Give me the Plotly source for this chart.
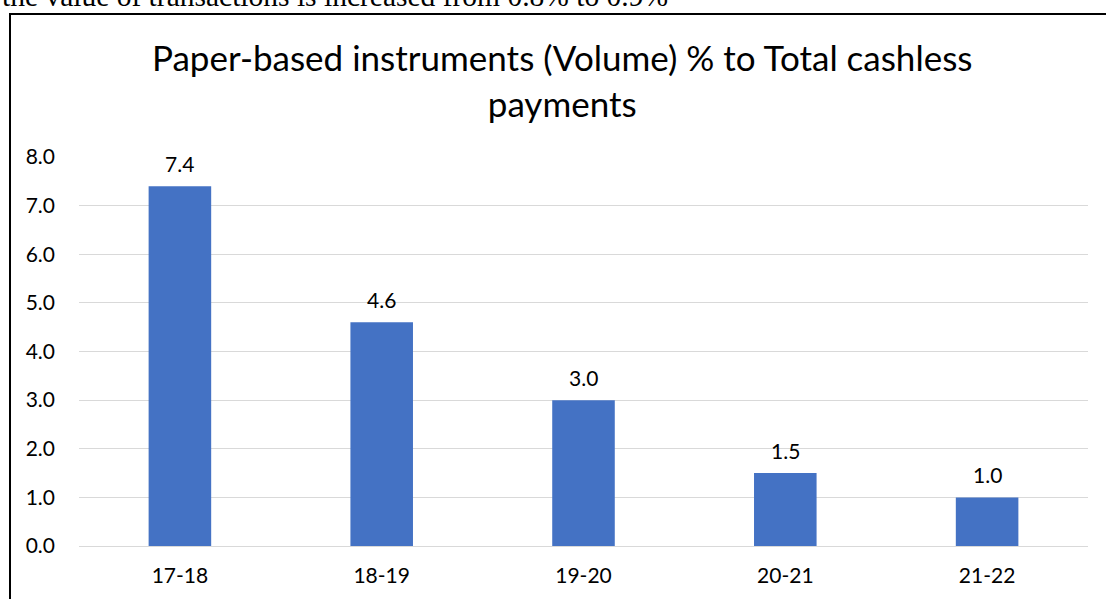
import plotly.graph_objects as go

years = ["17-18", "18-19", "19-20", "20-21", "21-22"]
paper_share = [7.4, 4.6, 3.0, 1.5, 1.0]
y_ticks = [0, 1, 2, 3, 4, 5, 6, 7, 8]
y_tick_text = [f"{v:.1f}" for v in y_ticks]

W, H = 1106, 599
L, R, T, B = 79, 18, 157, 53


def px(x):
    return (x - L) / (W - L - R)


def py(y):
    return (H - B - y) / (H - T - B)


font_family = "Lato, 'Open Sans', sans-serif"
label_size = 21

fig = go.Figure(
    go.Bar(
        x=years,
        y=paper_share,
        marker=dict(color="#4472C4", line=dict(width=0)),
        width=0.31,
        hoverinfo="x+y",
    )
)

# value labels above each bar
value_labels = [
    dict(
        x=yr, y=v, xref="x", yref="y",
        text=f"{v:.1f}",
        showarrow=False,
        xanchor="center", yanchor="bottom",
        yshift=8,
        font=dict(size=label_size, color="#000000", family=font_family),
    )
    for yr, v in zip(years, paper_share)
]

fig.update_layout(
    width=W,
    height=H,
    margin=dict(l=L, r=R, t=T, b=B),
    paper_bgcolor="white",
    plot_bgcolor="white",
    showlegend=False,
    font=dict(family=font_family, color="#000000"),
    xaxis=dict(
        showgrid=False,
        showline=False,
        ticks="",
        tickfont=dict(size=label_size, color="#000000"),
        ticklabelstandoff=15,
    ),
    yaxis=dict(
        range=[0, 8],
        tickvals=y_ticks,
        ticktext=y_tick_text,
        showgrid=True,
        gridcolor="#D9D9D9",
        gridwidth=1,
        zeroline=True,
        zerolinecolor="#D9D9D9",
        zerolinewidth=1,
        showline=False,
        ticks="",
        tickfont=dict(size=label_size, color="#000000"),
        ticklabelstandoff=23,
    ),
    shapes=[
        dict(
            type="rect",
            xref="paper", yref="paper",
            x0=px(10), x1=px(W + 10), y0=py(H + 10), y1=py(14),
            line=dict(color="#000000", width=2),
            fillcolor="rgba(0,0,0,0)",
            layer="above",
        )
    ],
    annotations=value_labels + [
        dict(
            text="Paper-based instruments (Volume) % to Total cashless<br>payments",
            xref="paper", yref="paper",
            x=px(562), y=py(80),
            xanchor="center", yanchor="middle",
            showarrow=False,
            font=dict(size=35, color="#000000", family=font_family),
            align="center",
        ),
        dict(
            text="the value of transactions is increased from 0.8% to 0.9%",
            xref="paper", yref="paper",
            x=px(0), y=py(14),
            xanchor="left", yanchor="bottom",
            showarrow=False,
            font=dict(size=29.5, color="#000000", family="'Liberation Serif', 'Times New Roman', serif"),
        ),
    ],
)

fig.write_html("out.html")
